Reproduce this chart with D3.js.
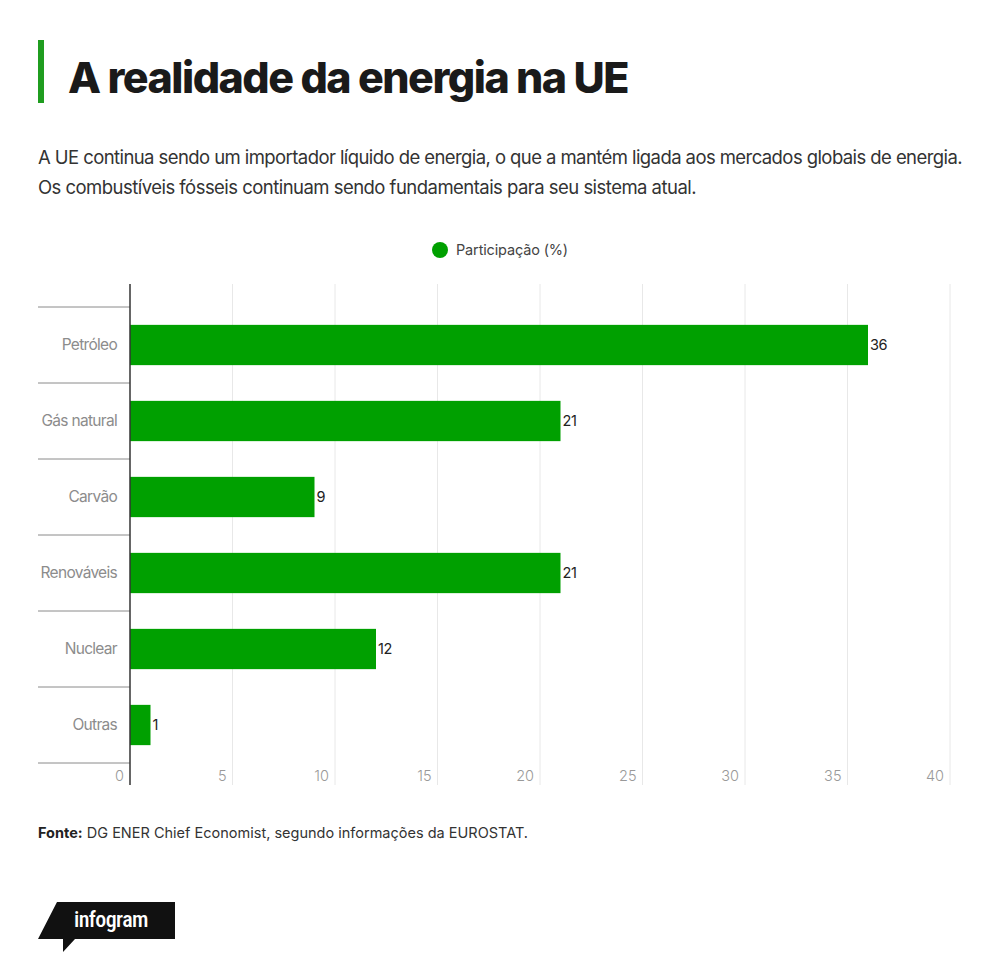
<!DOCTYPE html>
<html><head><meta charset="utf-8">
<script src="https://cdn.jsdelivr.net/npm/d3@7"></script>
<style>
html,body{margin:0;padding:0;background:#fff;}
svg{display:block;font-family:Inter,Roboto,"Liberation Sans",Arial,sans-serif;}
</style></head>
<body>
<svg id="chart" width="1000" height="971"></svg>
<script>
const categories = ["Petróleo","Gás natural","Carvão","Renováveis","Nuclear","Outras"];
const values = [36,21,9,21,12,1];
const xTicks = [0,5,10,15,20,25,30,35,40];
const seriesName = "Participação (%)";
const title = "A realidade da energia na UE";
const subtitle = ["A UE continua sendo um importador líquido de energia, o que a mantém ligada aos mercados globais de energia.",
                  "Os combustíveis fósseis continuam sendo fundamentais para seu sistema atual."];
const sourceBold = "Fonte:";
const sourceText = " DG ENER Chief Economist, segundo informações da EUROSTAT.";

const green = "#00a000";
const svg = d3.select("#chart");

function fit(sel, target){
  const n = sel.text().length;
  let ls = parseFloat(sel.attr("letter-spacing")||0);
  for(let i=0;i<4;i++){
    const w = sel.node().getComputedTextLength();
    ls += (target - w)/n;
    sel.attr("letter-spacing", ls+"px");
  }
}

// Title
svg.append("rect").attr("x",38).attr("y",40).attr("width",6).attr("height",63).attr("fill","#1f9d1f");
const t = svg.append("text").attr("x",68).attr("y",93).attr("font-size",43).attr("font-weight",800)
  .attr("fill","#1a1a1a").attr("letter-spacing","-2px").text(title);
fit(t, 560);

// Subtitle
subtitle.forEach((s,i)=>{
  const st = svg.append("text").attr("x",38).attr("y",164+i*30).attr("font-size",18.5).attr("fill","#333")
    .attr("letter-spacing","-0.8px").text(s);
  fit(st, i===0 ? 924 : 658);
});

// Legend
svg.append("circle").attr("cx",440).attr("cy",250).attr("r",8).attr("fill",green);
const lg = svg.append("text").attr("x",456).attr("y",255).attr("font-size",14.5).attr("fill","#444").attr("letter-spacing","-0.5px").text(seriesName);
fit(lg, 112);

// Scales
const x = d3.scaleLinear().domain([0,40]).range([130,950]);
const y = d3.scaleBand().domain(categories).range([307,763]).paddingInner(0.47).paddingOuter(0.235);

// Gridlines
svg.append("g").selectAll("line").data(xTicks.slice(1)).join("line")
  .attr("x1",d=>x(d)).attr("x2",d=>x(d)).attr("y1",284).attr("y2",785)
  .attr("stroke","#e8e8e8").attr("stroke-width",1);

// Tick labels
svg.append("g").selectAll("text").data(xTicks).join("text")
  .attr("x",d=>x(d)-6).attr("y",781).attr("text-anchor","end")
  .attr("font-size",14.5).attr("font-weight",300).attr("fill","#999").text(d=>d);

// Category separators
const rowH = (763-307)/categories.length;
const seps = d3.range(categories.length+1);
svg.append("g").selectAll("line").data(seps).join("line")
  .attr("x1",38).attr("x2",130)
  .attr("y1",i=>307+i*rowH).attr("y2",i=>307+i*rowH)
  .attr("stroke","#8a8a8a").attr("stroke-width",1);

// Category labels
svg.append("g").selectAll("text").data(categories).join("text")
  .attr("x",117).attr("y",d=>y(d)+y.bandwidth()/2+5).attr("text-anchor","end")
  .attr("font-size",15.5).attr("fill","#8c8c8c").attr("letter-spacing","-0.7px").text(d=>d);

// Bars
svg.append("g").selectAll("rect").data(values).join("rect")
  .attr("x",x(0)).attr("y",(d,i)=>y(categories[i]))
  .attr("width",d=>x(d)-x(0)).attr("height",y.bandwidth()).attr("fill",green);

// Value labels
svg.append("g").selectAll("text").data(values).join("text")
  .attr("x",d=>x(d)+2).attr("y",(d,i)=>y(categories[i])+y.bandwidth()/2+5)
  .attr("font-size",14.5).attr("fill","#222").attr("letter-spacing","-0.4px").text(d=>d);

// Axis line
svg.append("line").attr("x1",130).attr("x2",130).attr("y1",284).attr("y2",785).attr("stroke","#333").attr("stroke-width",1.5);

// Source
const src = svg.append("text").attr("x",38).attr("y",838).attr("font-size",14.5).attr("fill","#333").attr("letter-spacing","-0.6px");
src.append("tspan").attr("font-weight",700).attr("fill","#222").text(sourceBold);
src.append("tspan").text(sourceText);
fit(src, 490);

// Infogram logo
svg.append("path").attr("d","M57,902 L175,902 L175,939 L75,939 L63,952 L63,939 L38,939 Z").attr("fill","#111");
svg.append("text").attr("x",74).attr("y",927).attr("font-size",22).attr("font-weight",500)
  .attr("fill","#fff").attr("font-family","'Roboto Condensed','Liberation Sans Narrow',Roboto,sans-serif")
  .attr("letter-spacing","-0.6px").text("infogram");
</script>
</body></html>
